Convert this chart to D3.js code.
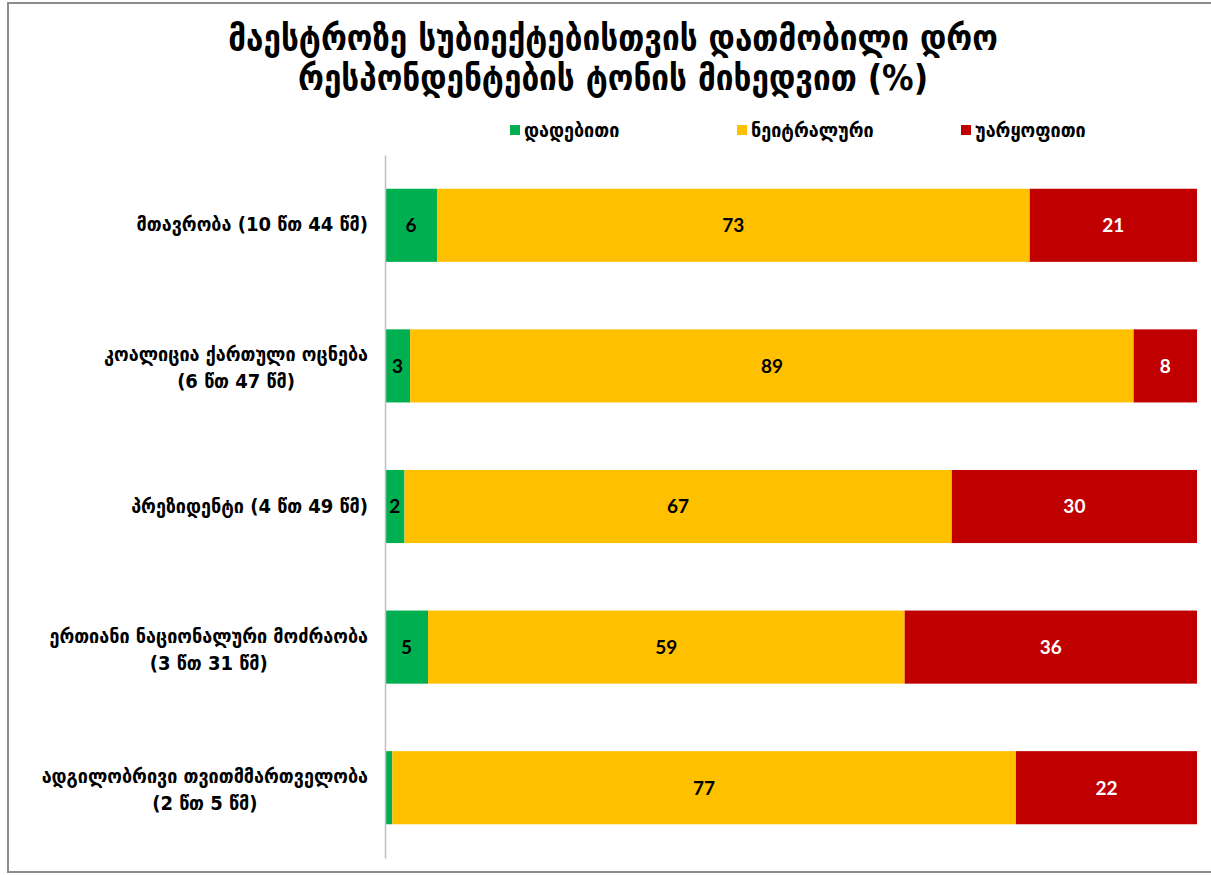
<!DOCTYPE html>
<html>
<head>
<meta charset="utf-8">
<script src="https://cdn.jsdelivr.net/npm/d3@7"></script>
<style>
html,body{margin:0;padding:0;background:#fff;}
svg{display:block;}
text{font-family:"DejaVu Sans Condensed","DejaVu Sans",sans-serif;font-weight:bold;font-stretch:condensed;}
.num{font-family:Lato,"Open Sans",sans-serif;font-stretch:normal;}
</style>
</head>
<body>
<svg id="chart" width="1211" height="875"></svg>
<script>
const titleLines = ["მაესტროზე სუბიექტებისთვის დათმობილი დრო", "რესპონდენტების ტონის მიხედვით (%)"];
const categories = [
  ["მთავრობა (10 წთ 44 წმ)"],
  ["კოალიცია ქართული ოცნება", "(6 წთ 47 წმ)"],
  ["პრეზიდენტი (4 წთ 49 წმ)"],
  ["ერთიანი ნაციონალური მოძრაობა", "(3 წთ 31 წმ)"],
  ["ადგილობრივი თვითმმართველობა", "(2 წთ 5 წმ)"]
];
const seriesNames = ["დადებითი", "ნეიტრალური", "უარყოფითი"];
const seriesColors = ["#00B050", "#FFC000", "#C00000"];
const labelColors = ["#000000", "#000000", "#FFFFFF"];
const positive = [6.4, 3.1, 2.4, 5.3, 0.9];
const neutral  = [73.0, 89.1, 67.4, 58.7, 76.8];
const negative = [20.6, 7.8, 30.2, 36.0, 22.3];

const keys = ["pos", "neu", "neg"];
const rows = categories.map((c, i) => ({id: i, pos: positive[i], neu: neutral[i], neg: negative[i]}));

const svg = d3.select("#chart");
const W = 1211, H = 875;

// outer border
svg.append("rect").attr("x", 8).attr("y", 3).attr("width", W + 10).attr("height", H - 6)
  .attr("fill", "none").attr("stroke", "#8c8c8c").attr("stroke-width", 2);

const margin = {left: 385, right: 14, top: 155, bottom: 17};
const x = d3.scaleLinear().domain([0, 1]).range([margin.left, W - margin.right]);
const y = d3.scaleBand().domain(rows.map(d => d.id)).range([margin.top, H - margin.bottom]).paddingInner(0.48).paddingOuter(0.24);

const stack = d3.stack().keys(keys).offset(d3.stackOffsetExpand);
const series = stack(rows);

const g = svg.append("g");
series.forEach((s, si) => {
  g.selectAll(null).data(s).enter().append("rect")
    .attr("x", d => x(d[0]))
    .attr("y", d => y(d.data.id))
    .attr("width", d => x(d[1]) - x(d[0]))
    .attr("height", y.bandwidth())
    .attr("fill", seriesColors[si]);
  g.selectAll(null).data(s.filter(d => d.data[keys[si]] >= 1.5)).enter().append("text")
    .attr("class", "num")
    .attr("x", d => (x(d[0]) + x(d[1])) / 2)
    .attr("y", d => y(d.data.id) + y.bandwidth() / 2)
    .attr("dy", "0.36em")
    .attr("text-anchor", "middle")
    .attr("font-size", 19)
    .attr("fill", labelColors[si])
    .text(d => d3.format(".0f")(d.data[keys[si]]));
});

// axis line
const yAxis = d3.axisLeft(y).tickSize(0).tickFormat("");
const ax = svg.append("g").attr("transform", `translate(${margin.left},0)`).call(yAxis);
ax.select(".domain").attr("stroke", "#bfbfbf").attr("stroke-width", 1.5);

// category labels
const labelRight = 368;
categories.forEach((lines, i) => {
  const cy = y(i) + y.bandwidth() / 2 + (lines.length > 1 ? 3 : 0);
  const lh = 27;
  const t = svg.append("g");
  const texts = lines.map((ln, j) => t.append("text")
    .attr("font-size", 20)
    .attr("fill", "#000")
    .attr("y", cy + (j - (lines.length - 1) / 2) * lh)
    .attr("dy", "0.3em")
    .text(ln));
  const widths = texts.map(tx => tx.node().getComputedTextLength());
  const mw = d3.max(widths);
  texts.forEach(tx => tx.attr("text-anchor", "middle").attr("x", labelRight - mw / 2));
});

// title
titleLines.forEach((ln, j) => {
  svg.append("text")
    .attr("x", 613).attr("y", 50 + j * 40)
    .attr("text-anchor", "middle")
    .attr("font-size", 35)
    .attr("fill", "#000")
    .text(ln);
});

// legend
const legendX = [510, 737, 961];
seriesNames.forEach((nm, i) => {
  svg.append("rect").attr("x", legendX[i]).attr("y", 125).attr("width", 10).attr("height", 10).attr("fill", seriesColors[i]);
  svg.append("text").attr("x", legendX[i] + 14).attr("y", 130).attr("dy", "0.35em")
    .attr("font-size", 20).attr("fill", "#000").text(nm);
});
</script>
</body>
</html>
